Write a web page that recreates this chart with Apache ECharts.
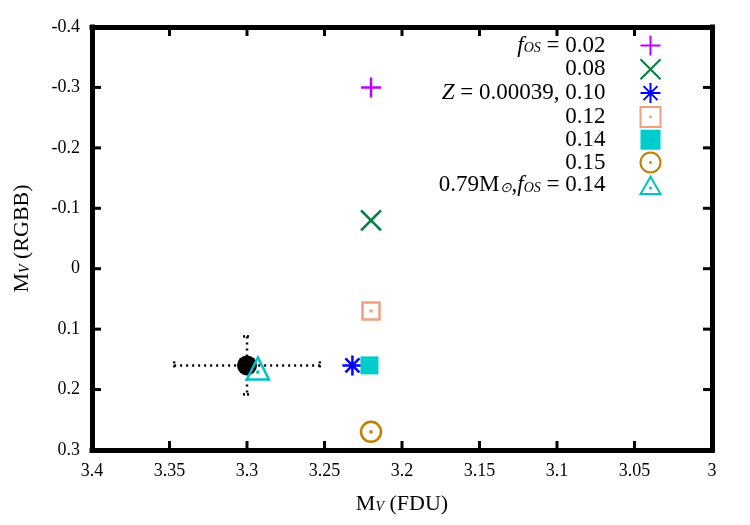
<!DOCTYPE html>
<html>
<head>
<meta charset="utf-8">
<script src="https://cdn.jsdelivr.net/npm/echarts@6/dist/echarts.min.js"></script>
<style>
  html, body { margin: 0; padding: 0; background: #fff; }
  #chart { width: 750px; height: 525px; }
</style>
</head>
<body>
<div id="chart"></div>
<script>
// series shown in the legend (top to bottom)
var seriesNames = ['fos002', 'fos008', 'z10', 'fos012', 'fos014', 'fos015', 'm079'];
var xFDU  = [3.22, 3.22, 3.232, 3.22, 3.221, 3.22, 3.293];
var yRGBB = [-0.30, -0.08, 0.16, 0.07, 0.16, 0.27, 0.165];
var colors = ['#c000ff', '#00803f', '#0000ff', '#f0a080', '#00cccc', '#c08000', '#00c4c4'];

// observed point with error bars: [x, y, xErr, yErr]
var observed = [[3.30, 0.16, 0.047, 0.048]];

// tick labels
var xTicks = [3.4, 3.35, 3.3, 3.25, 3.2, 3.15, 3.1, 3.05, 3];
var yTicks = [-0.4, -0.3, -0.2, -0.1, 0, 0.1, 0.2, 0.3];

var serif = 'Liberation Serif';

// legend label text (rich)
var legendText = {
  fos002: '{it|f}{sub|OS}{n| = 0.02}{gap|}',
  fos008: '{n|0.08}{gap|}',
  z10: '{it|Z}{n| = 0.00039, 0.10}{gap|}',
  fos012: '{n|0.12}{gap|}',
  fos014: '{n|0.14}{gap|}',
  fos015: '{n|0.15}{gap|}',
  m079: '{n|0.79M}{sub|⊙}{n|,}{it|f}{sub|OS}{n| = 0.14}{gap|}'
};

// marker shapes
var dot = 'M4.85,4.85h0.3v0.3h-0.3z';
var symbols = [
  'path://M0,5H10M5,0V10',
  'path://M0,0L10,10M10,0L0,10',
  'path://M0,5H10M5,0V10M1.5,1.5L8.5,8.5M8.5,1.5L1.5,8.5',
  'path://M0,0H10V10H0Z' + dot,
  'rect',
  'path://M10,5A5,5,0,1,1,0,5A5,5,0,1,1,10,5Z' + dot,
  'path://M5,0L10,8.66L0,8.66Z' + 'M4.85,5.6h0.3v0.3h-0.3z'
];
var sizes = [20, 20, 20, 17, 18, 20, 22];

function richSet(size, subSize) {
  return {
    n: { fontFamily: serif, fontSize: size, color: '#000', lineHeight: 20 },
    it: { fontFamily: serif, fontSize: size, fontStyle: 'italic', color: '#000', lineHeight: 20 },
    sub: { fontFamily: serif, fontSize: subSize, fontStyle: 'italic', color: '#000', lineHeight: 10, verticalAlign: 'bottom' },
    gap: { width: 30, lineHeight: 20, fontSize: 10 }
  };
}

var series = [];

// error bars for the observed point
series.push({
  type: 'custom',
  name: 'obs-err',
  data: observed,
  z: 2,
  renderItem: function (params, api) {
    var x = api.value(0), y = api.value(1), ex = api.value(2), ey = api.value(3);
    var l = api.coord([x + ex, y]);
    var r = api.coord([x - ex, y]);
    var t = api.coord([x, y - ey]);
    var b = api.coord([x, y + ey]);
    var cap = 4;
    var st = { stroke: '#000', lineWidth: 2.5, lineDash: [2, 4] };
    var cs = { stroke: '#000', lineWidth: 2.5, lineDash: [2, 2] };
    return {
      type: 'group',
      children: [
        { type: 'line', shape: { x1: l[0], y1: l[1], x2: r[0], y2: r[1] }, style: st },
        { type: 'line', shape: { x1: t[0], y1: t[1], x2: b[0], y2: b[1] }, style: st },
        { type: 'line', shape: { x1: l[0], y1: l[1] - cap, x2: l[0], y2: l[1] + cap }, style: cs },
        { type: 'line', shape: { x1: r[0], y1: r[1] - cap, x2: r[0], y2: r[1] + cap }, style: cs },
        { type: 'line', shape: { x1: t[0] - cap, y1: t[1], x2: t[0] + cap, y2: t[1] }, style: cs },
        { type: 'line', shape: { x1: b[0] - cap, y1: b[1], x2: b[0] + cap, y2: b[1] }, style: cs }
      ]
    };
  }
});

// inner tick marks on the four sides, as small bar symbols sitting on the frame
var tickLen = 9;
function tickSeries(name, data, size, offset) {
  return {
    type: 'scatter',
    name: name,
    data: data,
    symbol: 'rect',
    symbolSize: size,
    symbolOffset: offset,
    clip: false,
    silent: true,
    itemStyle: { color: '#000', opacity: 1 },
    z: 6
  };
}
var innerX = xTicks.slice(1, -1);
var innerY = yTicks.slice(1, -1);
series.push(tickSeries('tick-b', innerX.map(function (v) { return [v, yTicks[yTicks.length - 1]]; }), [3, tickLen], [0, -tickLen / 2]));
series.push(tickSeries('tick-t', innerX.map(function (v) { return [v, yTicks[0]]; }), [3, tickLen], [0, tickLen / 2]));
series.push(tickSeries('tick-l', innerY.map(function (v) { return [xTicks[0], v]; }), [tickLen, 3], [tickLen / 2, 0]));
series.push(tickSeries('tick-r', innerY.map(function (v) { return [xTicks[xTicks.length - 1], v]; }), [tickLen, 3], [-tickLen / 2, 0]));

series.push({
  type: 'scatter',
  name: 'obs',
  data: observed.map(function (d) { return [d[0], d[1]]; }),
  symbol: 'circle',
  symbolSize: 20,
  itemStyle: { color: '#000', opacity: 1 },
  z: 3
});

for (var i = 0; i < seriesNames.length; i++) {
  var filled = symbols[i] === 'rect';
  series.push({
    type: 'scatter',
    name: seriesNames[i],
    data: [[xFDU[i], yRGBB[i]]],
    symbol: symbols[i],
    symbolSize: sizes[i],
    itemStyle: filled
      ? { color: colors[i], opacity: 1 }
      : { color: 'none', borderColor: colors[i], borderWidth: 2.5, opacity: 1 },
    z: 4
  });
}

function frameLine() {
  return { show: true, onZero: false, lineStyle: { color: '#000', width: 5, cap: 'square' } };
}

var chart = echarts.init(document.getElementById('chart'));
chart.setOption({
  animation: false,
  grid: { left: 92, right: 38, top: 27, bottom: 75 },
  legend: {
    data: seriesNames,
    orient: 'vertical',
    align: 'right',
    right: 82,
    top: 28,
    itemWidth: 20,
    itemHeight: 20,
    itemGap: -1.2,
    formatter: function (name) { return legendText[name]; },
    textStyle: { fontSize: 23, lineHeight: 20, rich: richSet(23, 14) }
  },
  xAxis: [{
    type: 'value',
    min: 3, max: 3.4, interval: 0.05,
    inverse: true,
    splitLine: { show: false },
    axisLine: frameLine(),
    axisTick: { show: false },
    axisLabel: {
      margin: 12, fontFamily: serif, fontSize: 18, color: '#000',
      formatter: function (v) { return String(+v.toFixed(2)); }
    },
    name: '{n|M}{sub|V}{n| (FDU)}',
    nameLocation: 'middle',
    nameGap: 44,
    nameTextStyle: { fontSize: 22, rich: richSet(22, 14) }
  }, {
    type: 'value',
    position: 'top',
    min: 3, max: 3.4, interval: 0.05,
    inverse: true,
    splitLine: { show: false },
    axisLine: frameLine(),
    axisTick: { show: false },
    axisLabel: { show: false }
  }],
  yAxis: [{
    type: 'value',
    min: -0.4, max: 0.3, interval: 0.1,
    inverse: true,
    splitLine: { show: false },
    axisLine: frameLine(),
    axisTick: { show: false },
    axisLabel: {
      margin: 12, fontFamily: serif, fontSize: 18, color: '#000',
      formatter: function (v) { return String(+v.toFixed(1)); }
    },
    name: '{n|M}{sub|V}{n| (RGBB)}',
    nameLocation: 'middle',
    nameGap: 60,
    nameRotate: 90,
    nameTextStyle: { fontSize: 22, rich: richSet(22, 14) }
  }, {
    type: 'value',
    position: 'right',
    min: -0.4, max: 0.3, interval: 0.1,
    inverse: true,
    splitLine: { show: false },
    axisLine: frameLine(),
    axisTick: { show: false },
    axisLabel: { show: false }
  }],
  series: series
});
</script>
</body>
</html>
